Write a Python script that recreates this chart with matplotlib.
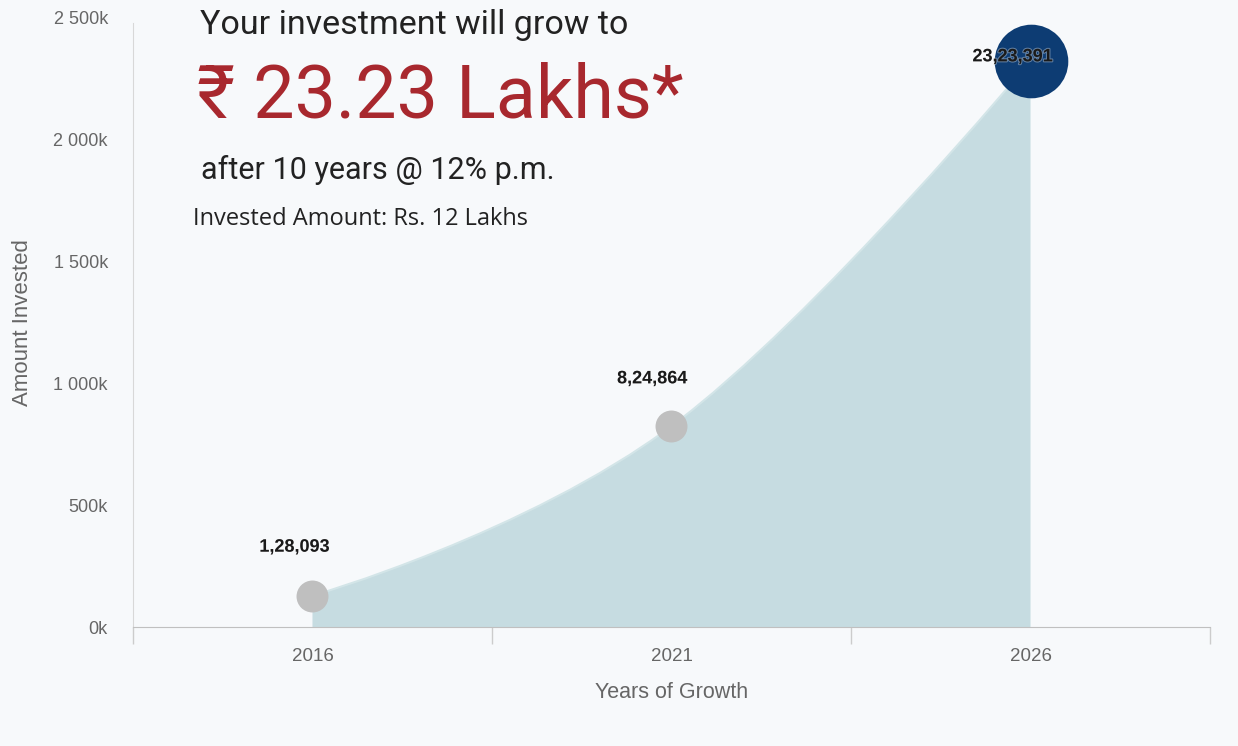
import numpy as np
import matplotlib.pyplot as plt
from matplotlib.path import Path
from matplotlib.patches import PathPatch
import matplotlib.patheffects as pe

years = ["2016", "2021", "2026"]
values = [128093, 824864, 2323391]
value_labels = ["1,28,093", "8,24,864", "23,23,391"]
y_ticks = [0, 500000, 1000000, 1500000, 2000000, 2500000]
y_tick_labels = ["0k", "500k", "1 000k", "1 500k", "2 000k", "2 500k"]

bg = "#f7f9fb"
fill_col = "#c6dce1"
grey_txt = "#666666"

fig = plt.figure(figsize=(12.38, 7.46), dpi=100, facecolor=bg)
ax = fig.add_axes([0.1074, 0.1595, 0.870, 0.8164], facecolor=bg)

x = np.arange(len(values))
y = np.array(values, dtype=float)


# smooth spline through points (Highcharts-style bezier control points)
def spline_path(xs, ys, smoothing=1.5):
    denom = smoothing + 1
    verts = [(xs[0], ys[0])]
    codes = [Path.MOVETO]
    right_prev = (xs[0], ys[0])
    for i in range(1, len(xs)):
        px, py = xs[i], ys[i]
        left = (px, py)
        right = None
        if i < len(xs) - 1:
            lx = (smoothing * px + xs[i - 1]) / denom
            ly = (smoothing * py + ys[i - 1]) / denom
            rx = (smoothing * px + xs[i + 1]) / denom
            ry = (smoothing * py + ys[i + 1]) / denom
            corr = (ry - ly) * (rx - px) / (rx - lx) + py - ry
            left = (lx, ly + corr)
            right = (rx, ry + corr)
        verts += [right_prev, left, (px, py)]
        codes += [Path.CURVE4] * 3
        right_prev = right if right is not None else (px, py)
    return verts, codes


verts, codes = spline_path(x, y)
area_verts = verts + [(x[-1], 0), (x[0], 0), (x[0], y[0])]
area_codes = codes + [Path.LINETO, Path.LINETO, Path.CLOSEPOLY]
ax.add_patch(PathPatch(Path(area_verts, area_codes), facecolor=fill_col,
                       edgecolor="none", zorder=2))
ax.add_patch(PathPatch(Path(verts, codes), facecolor="none",
                       edgecolor="#d3e5e8", lw=1.5, zorder=3))

# markers
ax.plot(x[:2], y[:2], "o", ms=23, color="#bfbfbf", mec="none", zorder=4)
ax.plot(x[2], y[2], "o", ms=53, color="#0d3c73", mec="none", zorder=4)

# data labels
offsets = [(-13, 35), (-14, 34), (-13, 3)]
for xi, yi, lab, off in zip(x, y, value_labels, offsets):
    ax.annotate(lab, (xi, yi), xytext=off, textcoords="offset points",
                ha="center", va="center", fontsize=13, fontweight="bold",
                color="#1a1a1a", family="Liberation Sans", zorder=5,
                path_effects=[pe.withStroke(linewidth=1.5, foreground="white", alpha=0.35)])

ax.set_xlim(-0.5, 2.5)
ax.set_ylim(0, 2500000)
ax.set_yticks(y_ticks)
ax.set_yticklabels(y_tick_labels)
ax.set_xticks(x)
ax.set_xticklabels(years)
ax.set_xticks([-0.5, 0.5, 1.5, 2.5], minor=True)
ax.tick_params(axis="y", length=0, pad=18, labelsize=13, labelcolor=grey_txt)
ax.tick_params(axis="x", which="major", length=0, pad=15, labelsize=13.5,
               labelcolor=grey_txt)
ax.tick_params(axis="x", which="minor", length=12, color="#cccccc", width=1)
for lab in ax.get_yticklabels() + ax.get_xticklabels():
    lab.set_family("Liberation Sans")

for s in ["top", "right"]:
    ax.spines[s].set_visible(False)
ax.spines["left"].set_color("#d8d8d8")
ax.spines["bottom"].set_color("#c0c0c0")
ax.spines["left"].set_bounds(0, 2480000)

ax.set_ylabel("Amount Invested", fontsize=16, color=grey_txt,
              family="Liberation Sans")
ax.yaxis.set_label_coords(-0.093, 0.5)
ax.set_xlabel("Years of Growth", fontsize=15.5, color=grey_txt,
              family="Liberation Sans")
ax.xaxis.set_label_coords(0.5, -0.09)

# headline text
fig.text(200 / 1238, 1 - 25 / 746, "Your investment will grow to",
         fontsize=24.5, color="#222222", va="center", family="Roboto")
fig.text(197 / 1238, 1 - 97 / 746, "₹ 23.23 Lakhs*", fontsize=53,
         color="#a8282e", va="center", family=["Roboto", "DejaVu Sans"])
fig.text(201 / 1238, 1 - 170 / 746, "after 10 years @ 12% p.m.",
         fontsize=22, color="#222222", va="center", family="Roboto")
fig.text(193 / 1238, 1 - 219 / 746, "Invested Amount: Rs. 12 Lakhs",
         fontsize=17, color="#222222", va="center", family="Open Sans")

fig.savefig("out.png", dpi=100, facecolor=bg)
